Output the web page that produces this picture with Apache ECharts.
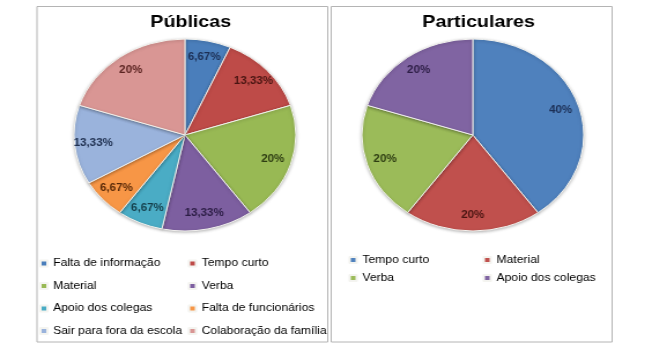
<!DOCTYPE html>
<html>
<head>
<meta charset="utf-8">
<script src="https://cdn.jsdelivr.net/npm/echarts@6/dist/echarts.min.js"></script>
<style>
  html, body { margin: 0; padding: 0; background: #ffffff; overflow: hidden; }
  #wrap { width: 652px; height: 358px; position: relative; overflow: hidden; }
  #chart { width: 564px; height: 358px; transform: scaleX(1.156); transform-origin: 0 0; }
</style>
</head>
<body>
<div id="wrap"><div id="chart"></div></div>
<script>
// ---- data ----
const publicasTitle = 'Públicas';
const publicasCategories = ['Falta de informação', 'Tempo curto', 'Material', 'Verba',
  'Apoio dos colegas', 'Falta de funcionários', 'Sair para fora da escola', 'Colaboração da família'];
const publicasValues = [6.67, 13.33, 20, 13.33, 6.67, 6.67, 13.33, 20];

const particularesTitle = 'Particulares';
const particularesCategories = ['Tempo curto', 'Material', 'Verba', 'Apoio dos colegas'];
const particularesValues = [40, 20, 20, 20];

// ---- styles ----
const publicasColors = ['#4A7EBB', '#BE4B48', '#98B954', '#7D5FA0', '#4AACC5', '#F79646', '#9AB3DC', '#D99694'];
const publicasLabelColors = ['#1c2f55', '#4a1512', '#2e3d12', '#2c1d45', '#143e4a', '#5a2a08', '#1f3050', '#5a2320'];
const particularesColors = ['#4F81BD', '#C0504D', '#9BBB59', '#8064A2'];
const particularesLabelColors = ['#1c2f55', '#4a1512', '#2e3d12', '#2c1d45'];

const fontFamily = 'Liberation Sans, Arial, sans-serif';

function fmt(v) { return String(v).replace('.', ',') + '%'; }

function visiblePie(center, cats, vals, colors) {
  return {
    type: 'pie', center: center, radius: 96, startAngle: 90, clockwise: true,
    label: { show: false }, labelLine: { show: false }, silent: true,
    itemStyle: { borderColor: '#f4f4f0', borderWidth: 1, shadowBlur: 3, shadowColor: 'rgba(0,0,0,0.25)', shadowOffsetY: 1 },
    data: cats.map((n, i) => ({ name: n, value: vals[i], itemStyle: { color: colors[i] } }))
  };
}
function labelPie(center, cats, vals, labelColors) {
  return {
    type: 'pie', center: center, radius: [57.6, 96], startAngle: 90, clockwise: true,
    silent: true, legendHoverLink: false,
    itemStyle: { color: 'rgba(0,0,0,0)', borderWidth: 0 },
    label: { show: true, position: 'inside', fontSize: 10, fontWeight: 'bold', fontFamily: fontFamily,
      formatter: p => fmt(p.value) },
    labelLine: { show: false },
    data: cats.map((n, i) => ({ name: n, value: vals[i], label: { color: labelColors[i] } }))
  };
}
function legend(cats, colors, idx, left, top, gap) {
  return {
    orient: 'vertical', left: left, top: top, padding: 0, itemGap: gap,
    itemWidth: 6, itemHeight: 6, icon: 'rect', selectedMode: false,
    textStyle: { fontSize: 10.5, color: '#000', fontFamily: fontFamily, lineHeight: 14 },
    data: idx.map(i => ({ name: cats[i], itemStyle: { color: colors[i] } }))
  };
}

const chart = echarts.init(document.getElementById('chart'), null, { renderer: 'canvas' });
chart.setOption({
  animation: false,
  backgroundColor: '#ffffff',
  title: [
    { text: publicasTitle, left: 160, top: 9, textAlign: 'center',
      textStyle: { fontSize: 17, fontWeight: 'bold', color: '#000', fontFamily: fontFamily } },
    { text: particularesTitle, left: 409, top: 9, textAlign: 'center',
      textStyle: { fontSize: 17, fontWeight: 'bold', color: '#000', fontFamily: fontFamily } }
  ],
  graphic: [
    { type: 'rect', shape: { x: 32, y: 6.5, width: 251.5, height: 335.5 }, style: { fill: 'none', stroke: '#b4b4b4', lineWidth: 1 }, silent: true, z: -1 },
    { type: 'rect', shape: { x: 286.5, y: 6.5, width: 243, height: 335.5 }, style: { fill: 'none', stroke: '#b4b4b4', lineWidth: 1 }, silent: true, z: -1 }
  ],
  legend: [
    legend(publicasCategories, publicasColors, [0, 2, 4, 6], 34, 256.5, 8.5),
    legend(publicasCategories, publicasColors, [1, 3, 5, 7], 162.5, 256.5, 8.5),
    legend(particularesCategories, particularesColors, [0, 2], 301.5, 253, 4),
    legend(particularesCategories, particularesColors, [1, 3], 417.5, 253, 4)
  ],
  series: [
    visiblePie([160, 135], publicasCategories, publicasValues, publicasColors),
    visiblePie([409, 135], particularesCategories, particularesValues, particularesColors),
    labelPie([160, 135], publicasCategories, publicasValues, publicasLabelColors),
    labelPie([409, 135], particularesCategories, particularesValues, particularesLabelColors)
  ]
});
</script>
</body>
</html>
